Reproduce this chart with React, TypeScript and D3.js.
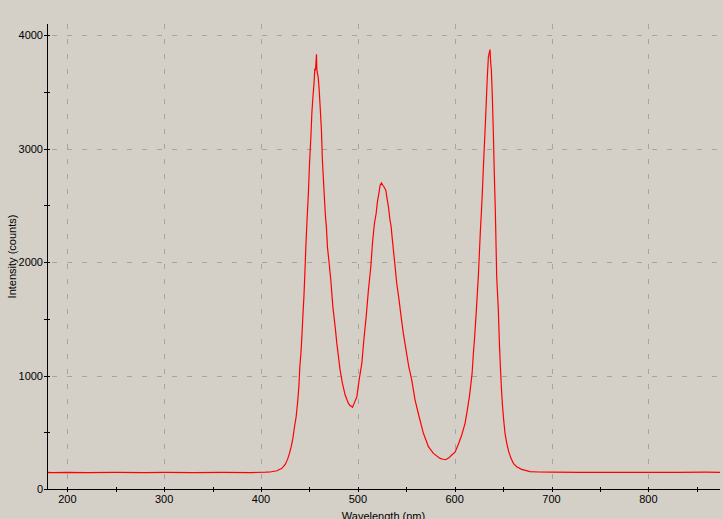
import React from "react";
import { scaleLinear, line, range } from "d3";

// spectrum: wavelength (nm) and intensity (counts)
const wavelength = [
  179, 179.3, 185, 200, 220, 250, 280, 300, 330, 360, 390, 405, 409.5, 416.4, 421.6, 425,
  427.4, 429.4, 431.2, 432.9, 434.6, 436.3, 437.7, 439.1, 440.1, 441.2, 442.2, 443.2,
  444.3, 445.3, 446.3, 447.5, 449, 450.1, 451.5, 452.5, 453.6, 454.6, 455.6, 456.3,
  456.7, 457.3, 457.6, 458, 459, 460, 461.1, 462.4, 463.4, 464.5, 465.5, 466.6, 467.6,
  468.6, 470.4, 472.1, 474.2, 476.6, 478.3, 480, 481.7, 484.1, 486.9, 490.3, 492, 493.1,
  494.5, 496.2, 499, 501.3, 504.1, 506.5, 508.6, 510.9, 513.4, 515.1, 517.1, 518.9,
  520.2, 521.7, 523, 524.4, 525.8, 527.1, 528.9, 530.2, 531.6, 533, 534.4, 535.7, 537.8,
  540.2, 542.6, 544.7, 547, 549.8, 552.6, 555.7, 559.1, 563.3, 567.7, 572.9, 578, 584.9,
  588, 590.8, 594, 597, 600.4, 603.8, 607.3, 610.7, 612.5, 614.1, 615.2, 616.6, 618,
  619.3, 620.4, 621.4, 622.4, 623.5, 624.5, 625.5, 626.5, 627.6, 628.6, 629.6, 630.6,
  631.7, 632.7, 633.7, 634.8, 635.8, 636.5, 637.2, 637.9, 638.9, 640, 641, 642, 643.4,
  645.1, 646.2, 647.2, 648.2, 649.2, 650.6, 652, 653.8, 655.8, 658.2, 660.6, 664, 669.2,
  677.8, 686.4, 700, 730, 760, 800, 830, 860, 874
];
const counts = [
  0, 146, 145, 147, 144, 146, 145, 147, 145, 146, 145, 148, 150, 161, 182, 217,
  261, 314, 373, 446, 549, 637, 755, 901, 1078, 1195, 1342, 1518,
  1694, 1900, 2135, 2360, 2620, 2870, 3104, 3310, 3456, 3559, 3707, 3690,
  3751, 3833, 3720, 3677, 3633, 3530, 3368, 3163, 2899, 2722, 2561, 2399, 2300,
  2135, 1988, 1841, 1606, 1430, 1284, 1166, 1048, 931, 828, 755, 735, 731,
  720, 755, 813, 960, 1107, 1342, 1518, 1753, 1959, 2165, 2341, 2429,
  2531, 2605, 2678, 2699, 2678, 2663, 2634, 2561, 2487, 2385, 2311, 2194, 2018,
  1812, 1665, 1518, 1372, 1225, 1078, 960, 784, 637, 491, 373, 314, 270,
  262, 258, 275, 300, 325, 395, 476, 579, 667, 755, 813, 916, 1019,
  1195, 1313, 1445, 1577, 1738, 1885, 2077, 2267, 2443, 2619, 2826, 3016,
  3222, 3427, 3633, 3809, 3850, 3874, 3760, 3692, 3456, 3119, 2752, 2450, 1871,
  1577, 1284, 1078, 901, 755, 608, 491, 403, 329, 270, 226, 196, 173,
  153, 150, 148, 147, 146, 147, 146, 148, 147
];

const xLabelTicks = [200, 300, 400, 500, 600, 700, 800];
const yLabelTicks = [0, 1000, 2000, 3000, 4000];

const WIDTH = 723;
const HEIGHT = 519;
const LEFT = 47;
const RIGHT = 720;
const TOP = 24;
const BOTTOM = 489;
const FONT = "Liberation Sans, Arial, sans-serif";

export default function App() {
  const x = scaleLinear().domain([179, 874]).range([LEFT, RIGHT]);
  const y = scaleLinear().domain([0, 4100]).range([BOTTOM, TOP]);

  const pts: [number, number][] = wavelength.map((w, i) => [w, counts[i]]);
  const path = line<[number, number]>()
    .x(d => x(d[0]))
    .y(d => y(d[1]))(pts)!;

  const xMinor = range(200, 875, 50);
  const yMinor = range(0, 4001, 500);

  return (
    <div style={{ position: "fixed", left: 0, top: 0 }}>
      <svg width={WIDTH} height={HEIGHT} style={{ display: "block" }}>
        <rect width={WIDTH} height={HEIGHT} fill="#d4d0c8" />

        {/* grid */}
        <g stroke="#a4a4a4" strokeWidth={1} strokeDasharray="5,10">
          {xLabelTicks.map(v => (
            <line key={"gx" + v} x1={Math.round(x(v)) + 0.5} x2={Math.round(x(v)) + 0.5} y1={TOP} y2={BOTTOM} />
          ))}
          {yLabelTicks.filter(v => v > 0).map(v => (
            <line key={"gy" + v} x1={LEFT + 5} x2={RIGHT} y1={Math.round(y(v)) + 0.5} y2={Math.round(y(v)) + 0.5} />
          ))}
        </g>

        <clipPath id="plot">
          <rect x={LEFT} y={TOP} width={RIGHT - LEFT} height={BOTTOM - TOP} />
        </clipPath>
        <path d={path} fill="none" stroke="#ff0000" strokeWidth={1.2} clipPath="url(#plot)" />

        {/* x axis */}
        <g>
          <line x1={LEFT} x2={RIGHT} y1={BOTTOM + 0.5} y2={BOTTOM + 0.5} stroke="#000" />
          {xMinor.map(v => (
            <line key={"tx" + v} x1={Math.round(x(v)) + 0.5} x2={Math.round(x(v)) + 0.5} y1={BOTTOM - 2} y2={BOTTOM + 3} stroke="#000" />
          ))}
          {xLabelTicks.map(v => (
            <text key={"lx" + v} x={x(v)} y={503} fontSize={11} fontFamily={FONT} textAnchor="middle" fill="#000">
              {v}
            </text>
          ))}
          <text x={(LEFT + RIGHT) / 2} y={520} fontSize={11} fontFamily={FONT} textAnchor="middle" fill="#000">
            Wavelength (nm)
          </text>
        </g>

        {/* y axis */}
        <g>
          <line x1={LEFT + 0.5} x2={LEFT + 0.5} y1={TOP} y2={BOTTOM} stroke="#000" />
          {yMinor.map(v => (
            <line key={"ty" + v} x1={LEFT - 3} x2={LEFT + 3} y1={Math.round(y(v)) + 0.5} y2={Math.round(y(v)) + 0.5} stroke="#000" />
          ))}
          {yLabelTicks.map(v => (
            <text key={"ly" + v} x={43} y={y(v) + 4} fontSize={11} fontFamily={FONT} textAnchor="end" fill="#000">
              {v}
            </text>
          ))}
          <text
            transform={`translate(16, ${(TOP + BOTTOM) / 2}) rotate(-90)`}
            fontSize={11}
            fontFamily={FONT}
            textAnchor="middle"
            fill="#000"
          >
            Intensity (counts)
          </text>
        </g>
      </svg>
    </div>
  );
}
